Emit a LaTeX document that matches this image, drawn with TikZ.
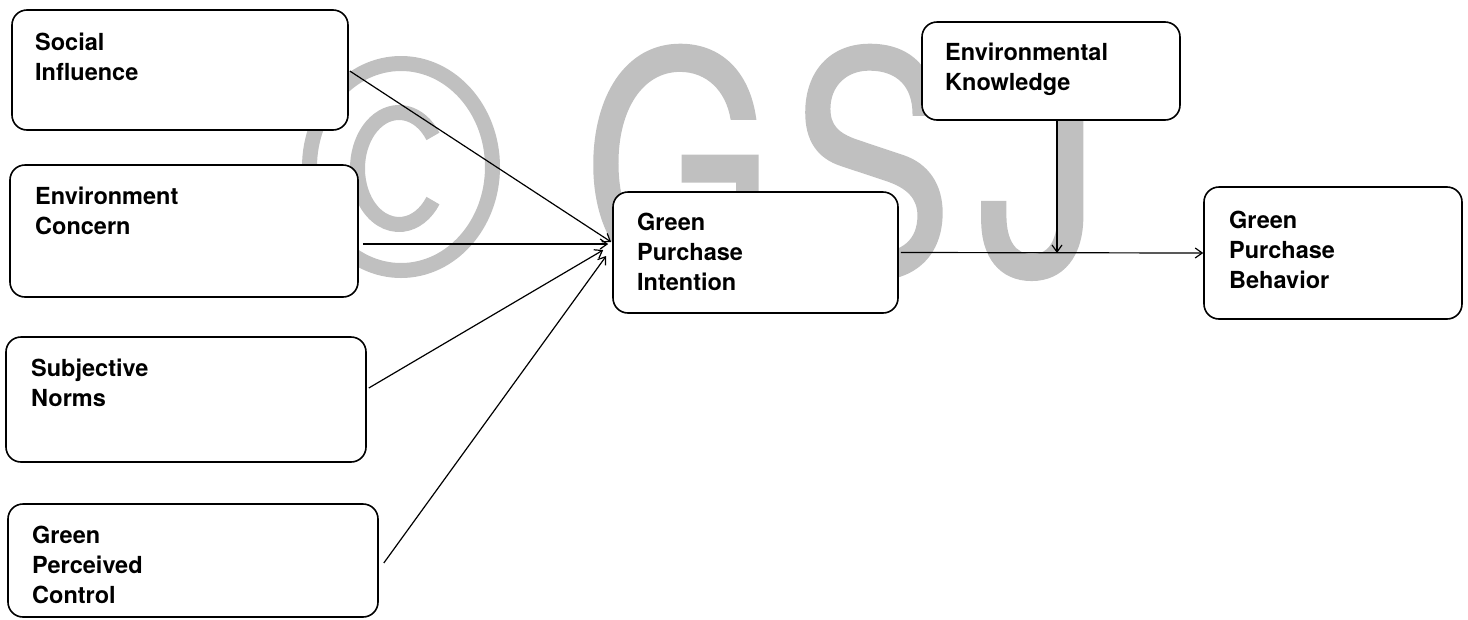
\documentclass[tikz,border=0pt]{standalone}
\usepackage{fontspec}
\usepackage{graphicx}
\setmainfont{TeX Gyre Heros}
\newfontfamily\wmfont[FakeBold=1]{TeX Gyre Heros}
\usetikzlibrary{arrows.meta,calc}
\definecolor{wm}{RGB}{192,192,192}
\begin{document}
\begin{tikzpicture}[x=1pt,y=-1pt,
  box/.style={draw=black, fill=white, line width=1.6pt, rounded corners=15pt, inner sep=0pt},
  lbl/.style={anchor=north west, inner sep=0pt, align=left, font=\bfseries\fontsize{23.5}{30}\selectfont},
  conn/.style={line width=1.2pt, -{Straight Barb[length=7pt,width=10pt]}},
  wmtext/.style={text=wm, inner sep=0pt, anchor=base, font=\wmfont\fontsize{245}{245}\selectfont}
]
\useasboundingbox (0,0) rectangle (1468,619);
% watermark
\coordinate (cc) at (399,168.5);
\draw[wm, line width=15pt] (401,167) ellipse [x radius=91.5pt, y radius=103.5pt];
\draw[wm, line width=15pt] ($(cc)+(35:41.5pt and 56pt)$) arc[start angle=35, end angle=325, x radius=41.5pt, y radius=56pt];
\node[wmtext] (wg) at (679,274) {\scalebox{1}[1.25]{G}};
\node[wmtext] (ws) at (871,274) {\scalebox{1}[1.25]{S}};
\node[wmtext] (wj) at (1039,274) {\scalebox{1}[1.25]{J}};
% boxes
\node[box, minimum width=336pt, minimum height=120pt] (si) at (180,70) {};
\node[lbl] (sit) at (35,32.8) {Social\\Influence};
\node[box, minimum width=348pt, minimum height=132pt] (ec) at (184,231) {};
\node[lbl] (ect) at (35,186.8) {Environment\\Concern};
\node[box, minimum width=360pt, minimum height=125pt] (sn) at (186,399.5) {};
\node[lbl] (snt) at (31,358.8) {Subjective\\Norms};
\node[box, minimum width=370pt, minimum height=113pt] (gpc) at (193,560.5) {};
\node[lbl] (gpct) at (32,525.8) {Green\\Perceived\\Control};
\node[box, minimum width=285pt, minimum height=121pt] (gpi) at (755.5,252.5) {};
\node[lbl] (gpit) at (637,212.8) {Green\\Purchase\\Intention};
\node[box, minimum width=258pt, minimum height=98pt] (ek) at (1051,71) {};
\node[lbl] (ekt) at (945,42.8) {Environmental\\Knowledge};
\node[box, minimum width=258pt, minimum height=132pt] (gpb) at (1333,253) {};
\node[lbl] (gpbt) at (1229,210.8) {Green\\Purchase\\Behavior};
% connectors
\draw[conn] ($(si.east)+(1,1)$) -- ($(gpi.west)+(-1,-10.5)$);
\draw[conn] ($(ec.east)+(4,13)$) -- ($(gpi.west)+(-4,-8.5)$);
\draw[conn] ($(sn.east)+(2,-11.5)$) -- ($(gpi.west)+(-9,-2.5)$);
\draw[conn] ($(gpc.east)+(5,2.5)$) -- ($(gpi.west)+(-6,3.5)$);
\draw[conn] ($(gpi.east)+(2,0)$) -- (gpb.west);
\coordinate (jn) at (1057,253);
\draw[conn] (ek.south -| jn) -- (jn);
\end{tikzpicture}
\end{document}
